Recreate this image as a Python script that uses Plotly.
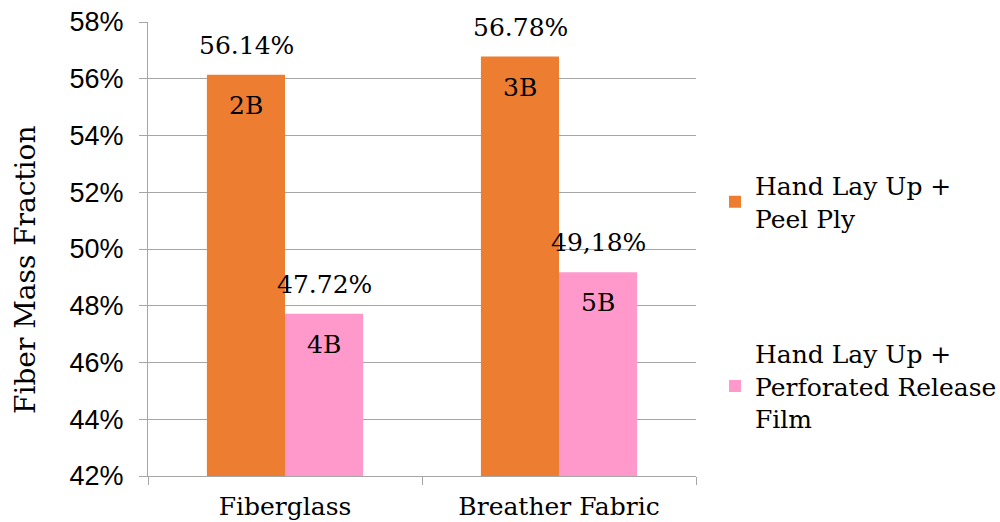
import plotly.graph_objects as go

categories = ["Fiberglass", "Breather Fabric"]
series_names = ["Hand Lay Up +<br>Peel Ply", "Hand Lay Up +<br>Perforated Release<br>Film"]
peel_ply = [56.14, 56.78]
perforated = [47.72, 49.18]
peel_ids = ["2B", "3B"]
perf_ids = ["4B", "5B"]
peel_value_labels = ["56.14%", "56.78%"]
perf_value_labels = ["47.72%", "49,18%"]
y_ticks = [42, 44, 46, 48, 50, 52, 54, 56, 58]
y_tick_labels = [f"{v}%" for v in y_ticks]
y_title = "Fiber Mass Fraction"

colors = ["#ED7D31", "#FF99CC"]
serif = "DejaVu Serif"
FS = 25

fig = go.Figure()
fig.add_trace(go.Bar(
    x=categories, y=peel_ply, name=series_names[0],
    marker=dict(color=colors[0], line=dict(width=0)), legendgroup="a",
))
fig.add_trace(go.Bar(
    x=categories, y=perforated, name=series_names[1],
    marker=dict(color=colors[1], line=dict(width=0)), legendgroup="b",
))

annotations = []
for i, c in enumerate(categories):
    for vals, labels, ids, sh in ((peel_ply, peel_value_labels, peel_ids, -39),
                                   (perforated, perf_value_labels, perf_ids, 39)):
        annotations.append(dict(x=c, y=vals[i], xref="x", yref="y", text=labels[i],
                                showarrow=False, xshift=sh, yshift=13, yanchor="bottom",
                                font=dict(family=serif, size=FS, color="black")))
        annotations.append(dict(x=c, y=vals[i], xref="x", yref="y", text=ids[i],
                                showarrow=False, xshift=sh, yshift=-14, yanchor="top",
                                font=dict(family=serif, size=FS, color="black")))
annotations.append(dict(x=(25 - 148) / 548, y=(476 - 270) / 454, xref="paper", yref="paper",
                        text=y_title, textangle=-90, showarrow=False,
                        xanchor="center", yanchor="middle",
                        font=dict(family=serif, size=28, color="black")))

fig.update_layout(
    width=1000, height=522,
    margin=dict(l=148, r=304, t=22, b=46),
    paper_bgcolor="white", plot_bgcolor="white",
    barmode="group", bargap=0.43, bargroupgap=0,
    annotations=annotations,
    showlegend=True,
    legend=dict(x=0.715, y=0.69, xref="container", yref="paper",
                xanchor="left", yanchor="top",
                font=dict(family=serif, size=FS, color="black"),
                tracegroupgap=100, traceorder="grouped", itemwidth=30),
)
fig.update_yaxes(
    range=[42, 58], tickvals=y_ticks, ticktext=y_tick_labels,
    tickfont=dict(family="Liberation Sans", size=27, color="black"),
    showgrid=True, gridcolor="#A6A6A6", gridwidth=1,
    showline=True, linecolor="#A6A6A6", linewidth=1,
    ticks="outside", ticklen=8, tickcolor="#A6A6A6", ticklabelstandoff=10,
    zeroline=False, automargin=False,
)
fig.update_xaxes(
    tickfont=dict(family=serif, size=FS, color="black"),
    showline=True, linecolor="#A6A6A6", linewidth=1,
    ticks="outside", ticklen=8, tickcolor="#A6A6A6", tickson="boundaries",
    ticklabelstandoff=8, automargin=False,
    showgrid=False,
)

fig.write_html("out.html")
